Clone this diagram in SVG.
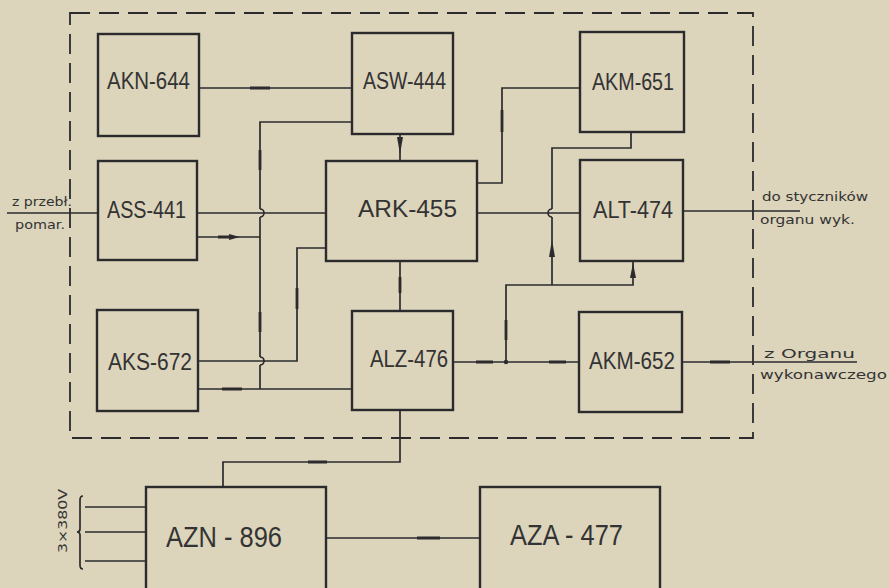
<svg xmlns="http://www.w3.org/2000/svg" width="889" height="588" viewBox="0 0 889 588">
<style>
.box{fill:none;stroke:#2b2b2e;stroke-width:2.4}
.lbl{font-family:"Liberation Sans Narrow","Liberation Sans",Arial,sans-serif;font-size:23px;fill:#333;text-anchor:middle}
.big{font-size:29px}
.ln{fill:none;stroke:#2b2b2e;stroke-width:1.7}
.thk{fill:none;stroke:#2b2b2e;stroke-width:2.8}
.frame{fill:none;stroke:#2b2b2e;stroke-width:1.8;stroke-dasharray:20 9}
.note{font-family:"DejaVu Sans","Liberation Sans",sans-serif;font-size:12px;fill:#333}
.ah{fill:#2b2b2e}
</style>
<rect width="889" height="588" fill="#dcd4bb"/>
<rect x="70" y="13" width="683" height="425" class="frame"/>

<g id="connectors">
  <path class="ln" d="M199,88 H352"/>
  <path class="ln" d="M352,122 H260 V209 M260,217 V357 M260,365 V389"/>
  <path class="ln" d="M260,209 a4,4 0 0 1 0,8 M260,357 a4,4 0 0 1 0,8"/>
  <path class="ln" d="M197,213 H326"/>
  <path class="ln" d="M197,237 H260"/>
  <path class="ln" d="M326,248 H297 V361 H198"/>
  <path class="ln" d="M198,389 H352"/>
  <path class="ln" d="M400,134 V161"/>
  <path class="ln" d="M400,261 V311"/>
  <path class="ln" d="M477,183 H502 V88 H580"/>
  <path class="ln" d="M477,213 H580"/>
  <path class="ln" d="M631,132 V148 H552 V209 M552,217 V285"/>
  <path class="ln" d="M552,209 a4,4 0 0 0 0,8"/>
  <path class="ln" d="M506,362 V285 H633 V261"/>
  <path class="ln" d="M453,362 H579"/>
  <circle cx="506" cy="362" r="2.2" class="ah"/>
  <path class="ln" d="M683,211 H800"/>
  <path class="ln" d="M682,362 H857"/>
  <path class="ln" d="M7,213 H98"/>
  <path class="ln" d="M400,410 V462 H223 V487"/>
  <path class="ln" d="M326,538 H480"/>
  <path class="ln" d="M85,507 H146 M85,532 H146 M85,561 H146"/>
  <path class="ln" d="M83,496 Q80,496 80,500 V529 Q80,532 77,532 Q80,532 80,535 V565 Q80,569 83,569"/>
  <path class="thk" d="M260,150 V170 M260,312 V332 M297,288 V309 M502,110 V132 M400,277 V293 M506,320 V340 M250,88 H270 M222,389 H242 M308,462 H327 M417,538 H440 M476,362 H493 M549,362 H566 M710,362 H730 M218,237 H233"/>
  <polygon class="ah" points="397,137 403,137 400,154"/>
  <polygon class="ah" points="229,234 240,237 229,240"/>
  <polygon class="ah" points="549,257 555,257 552,240"/>
  <polygon class="ah" points="630,278 636,278 633,263"/>
</g>

<g id="AKN-644"><rect class="box" x="98" y="34" width="101" height="102"/><text class="lbl" x="148.5" y="89" textLength="83" lengthAdjust="spacingAndGlyphs">AKN-644</text></g>
<g id="ASS-441"><rect class="box" x="98" y="161" width="99" height="99"/><text class="lbl" x="146.5" y="218" textLength="79" lengthAdjust="spacingAndGlyphs">ASS-441</text></g>
<g id="ASW-444"><rect class="box" x="352" y="33" width="101" height="101"/><text class="lbl" x="404.5" y="89" textLength="83" lengthAdjust="spacingAndGlyphs">ASW-444</text></g>
<g id="ARK-455"><rect class="box" x="326" y="161" width="151" height="100"/><text class="lbl" x="407.5" y="217" textLength="99" lengthAdjust="spacingAndGlyphs">ARK-455</text></g>
<g id="AKM-651"><rect class="box" x="580" y="32" width="104" height="100"/><text class="lbl" x="633" y="90" textLength="82" lengthAdjust="spacingAndGlyphs">AKM-651</text></g>
<g id="ALT-474"><rect class="box" x="580" y="160" width="103" height="101"/><text class="lbl" x="633" y="218" textLength="80" lengthAdjust="spacingAndGlyphs">ALT-474</text></g>
<g id="AKS-672"><rect class="box" x="97" y="310" width="101" height="101"/><text class="lbl" x="150" y="370" textLength="84" lengthAdjust="spacingAndGlyphs">AKS-672</text></g>
<g id="ALZ-476"><rect class="box" x="352" y="311" width="101" height="99"/><text class="lbl" x="409" y="367" textLength="78" lengthAdjust="spacingAndGlyphs">ALZ-476</text></g>
<g id="AKM-652"><rect class="box" x="579" y="312" width="103" height="100"/><text class="lbl" x="632" y="369" textLength="86" lengthAdjust="spacingAndGlyphs">AKM-652</text></g>
<g id="AZN-896"><rect class="box" x="146" y="487" width="180" height="110"/><text class="lbl big" x="224" y="547" textLength="116" lengthAdjust="spacingAndGlyphs">AZN - 896</text></g>
<g id="AZA-477"><rect class="box" x="480" y="487" width="180" height="110"/><text class="lbl big" x="566.5" y="545" textLength="113" lengthAdjust="spacingAndGlyphs">AZA - 477</text></g>

<g id="labels">
  <text class="note" x="12" y="206" textLength="60" lengthAdjust="spacingAndGlyphs">z przebł.</text>
  <text class="note" x="15" y="229" textLength="50" lengthAdjust="spacingAndGlyphs">pomar.</text>
  <text class="note" x="762" y="201" font-size="14" textLength="106" lengthAdjust="spacingAndGlyphs">do styczników</text>
  <text class="note" x="760" y="224" font-size="14" textLength="95" lengthAdjust="spacingAndGlyphs">organu  wyk.</text>
  <text class="note" x="764" y="358" font-size="14" textLength="91" lengthAdjust="spacingAndGlyphs">z Organu</text>
  <text class="note" x="760" y="379" font-size="14" textLength="127" lengthAdjust="spacingAndGlyphs">wykonawczego</text>
  <text class="note" transform="translate(67,521) rotate(-90)" text-anchor="middle" font-size="14" textLength="64" lengthAdjust="spacingAndGlyphs">3×380V</text>
</g>
</svg>
